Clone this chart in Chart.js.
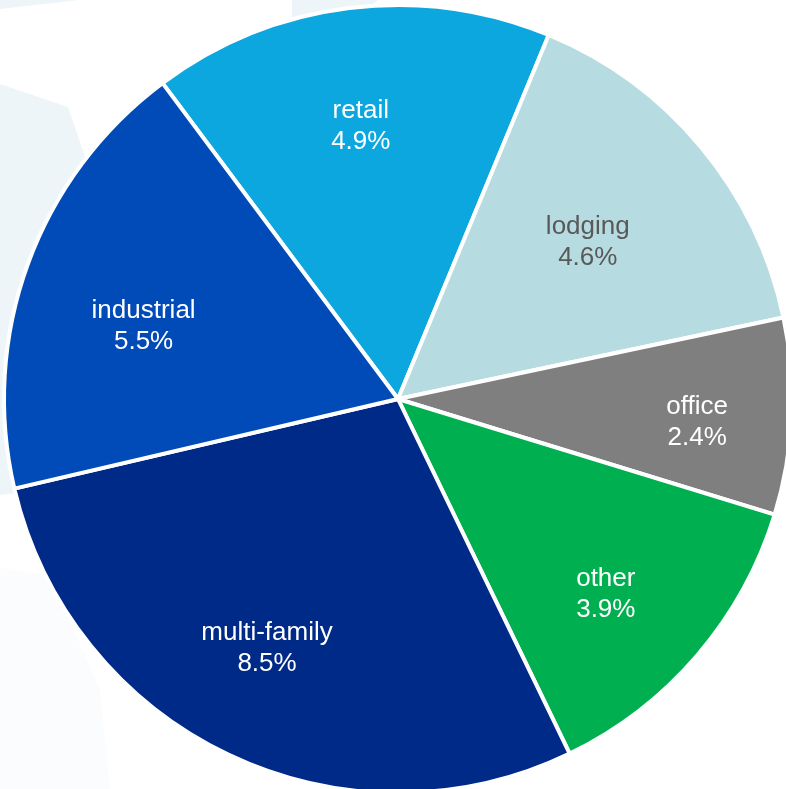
<!DOCTYPE html>
<html>
<head>
<meta charset="utf-8">
<script src="https://cdn.jsdelivr.net/npm/chart.js@4.4.0/dist/chart.umd.min.js"></script>
<style>
    html, body {
        margin: 0;
        padding: 0;
        width: 786px;
        height: 789px;
        overflow: hidden;
        background: #ffffff;
    }
    #bg {
        position: absolute;
        left: 0;
        top: 0;
    }
    #pieChart {
        position: absolute;
        left: -2px;
        top: -1px;
    }
</style>
</head>
<body>

<!-- faint background shapes -->
<svg id="bg" width="786" height="789">
    <polygon points="0,0 80,0 0,9" fill="#eef5f8"/>
    <polygon points="292,0 378,0 372,5 300,16 292,18" fill="#eef5f8"/>
    <polygon points="0,84 68,107 85,157 110,230 40,490 0,495" fill="#eef5f8"/>
    <polygon points="0,568 50,576 100,690 110,789 0,789" fill="#fafcfd"/>
</svg>

<canvas id="pieChart" width="800" height="800"></canvas>

<script>

const categories = ["retail", "lodging", "office", "other", "multi-family", "industrial"];
const shares = [4.9, 4.6, 2.4, 3.9, 8.5, 5.5];
const shareLabels = ["4.9%", "4.6%", "2.4%", "3.9%", "8.5%", "5.5%"];

const sliceColors = ["#0ba7de", "#b6dce2", "#7f7f7f", "#00b050", "#002a88", "#004bb8"];
const textColors = ["#ffffff", "#595959", "#ffffff", "#ffffff", "#ffffff", "#ffffff"];

// label placement: fraction of radius + small angle nudge (degrees)
const labelRadius = [0.705, 0.629, 0.761, 0.719, 0.710, 0.673];
const labelNudge = [-0.6, -0.3, 1.4, 2.2, 2.4, -3.7];

// ======================================
// Slice labels
// ======================================

const sliceLabels = {
    id: "sliceLabels",
    afterDatasetsDraw(chart) {
        const ctx = chart.ctx;
        const arcs = chart.getDatasetMeta(0).data;

        ctx.save();
        ctx.font = "26px 'Liberation Sans', Arial, sans-serif";
        ctx.textAlign = "center";
        ctx.textBaseline = "alphabetic";

        arcs.forEach(function (arc, i) {
            const mid = (arc.startAngle + arc.endAngle) / 2 + labelNudge[i] * Math.PI / 180;
            const r = arc.outerRadius * labelRadius[i];
            const x = arc.x + r * Math.cos(mid);
            const y = arc.y + r * Math.sin(mid);

            ctx.fillStyle = textColors[i];
            ctx.fillText(categories[i], x, y - 6);
            ctx.fillText(shareLabels[i], x, y + 25);
        });

        ctx.restore();
    }
};

const pieCtx = document.getElementById("pieChart").getContext("2d");

new Chart(pieCtx, {

    type: "pie",

    data: {
        labels: categories,
        datasets: [{
            data: shares,
            backgroundColor: sliceColors,
            borderColor: "#ffffff",
            borderWidth: 4,
            hoverOffset: 0
        }]
    },

    options: {
        responsive: false,
        animation: false,
        devicePixelRatio: 1,
        events: [],
        rotation: -36.7,
        radius: 394,
        layout: { padding: 0 },
        plugins: {
            legend: { display: false },
            tooltip: { enabled: false }
        }
    },

    plugins: [sliceLabels]

});

</script>
</body>
</html>
